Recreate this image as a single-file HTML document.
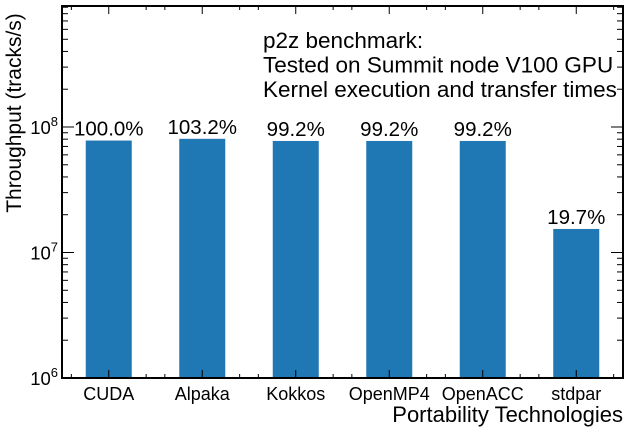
<!DOCTYPE html>
<html><head><meta charset="utf-8"><style>
body{margin:0;background:#fff}
svg{display:block;font-family:"Liberation Sans",Arial,sans-serif}
</style></head><body>
<svg id="c" width="632" height="432" viewBox="0 0 632 432" xmlns="http://www.w3.org/2000/svg"></svg>
<script>
const categories=["CUDA","Alpaka","Kokkos","OpenMP4","OpenACC","stdpar"];
const throughputs=[7.8e7,8.05e7,7.74e7,7.74e7,7.74e7,1.54e7];
const percentLabels=["100.0%","103.2%","99.2%","99.2%","99.2%","19.7%"];
const yDecades=[6,7,8];
const L=62,R=623,T=6,B=378,yMin=6,yMax=8+(B-T)/125.5-2;
const NS="http://www.w3.org/2000/svg";
const svg=document.getElementById('c');
function y(v){return B-(Math.log10(v)-yMin)/(yMax-yMin)*(B-T);}
const bw=(R-L)/categories.length;
function xc(i){return L+bw*(i+0.5);}
function el(t,a,p){const e=document.createElementNS(NS,t);for(const k in a)e.setAttribute(k,a[k]);(p||svg).appendChild(e);return e;}
categories.forEach((c,i)=>{
  const b=el('rect',{x:xc(i)-23,y:y(throughputs[i]),width:46,height:B-y(throughputs[i]),fill:'#1f77b4'});
  
  
  const t=el('text',{x:xc(i),y:y(throughputs[i])-5,'text-anchor':'middle','font-size':20.5,fill:'#000'});
  t.textContent=percentLabels[i];
  
  
  const l=el('text',{x:xc(i),y:B+22,'text-anchor':'middle','font-size':18,fill:'#000'});
  l.textContent=c;
  
  
  [[0,8],[-0.4,4],[0.4,4]].forEach(([o,len])=>{
    const xx=xc(i)+o*bw;
    el('line',{x1:xx,x2:xx,y1:B,y2:B-len,stroke:'#000','stroke-width':1});
    el('line',{x1:xx,x2:xx,y1:T,y2:T+len,stroke:'#000','stroke-width':1});
  });
});
for(let d=yMin;d<9;d++){
  for(let m=1;m<10;m++){
    const v=m*Math.pow(10,d);const yy=y(v);
    if(yy<T-0.5||yy>B+0.5)continue;
    const len=m===1?12:6;
    el('line',{x1:L,x2:L+len,y1:yy,y2:yy,stroke:'#000','stroke-width':1});
    el('line',{x1:R,x2:R-len,y1:yy,y2:yy,stroke:'#000','stroke-width':1});
  }
}
yDecades.forEach(d=>{
  const yy=y(Math.pow(10,d));
  const t=el('text',{x:L-4,y:yy+7,'text-anchor':'end','font-size':18.5,fill:'#000'});
  t.innerHTML='10<tspan dy="-8" font-size="13">'+d+'</tspan>';
  
  
});
const fr=el('rect',{x:L,y:T,width:R-L,height:B-T,fill:'none',stroke:'#000','stroke-width':2});


const yt=el('text',{x:0,y:0,transform:'translate(21,113) rotate(-90)','text-anchor':'middle','font-size':21,fill:'#000'});
yt.textContent='Throughput (tracks/s)';


const xt=el('text',{x:R,y:422,'text-anchor':'end','font-size':22,fill:'#000'});
xt.textContent='Portability Technologies';


["p2z benchmark:","Tested on Summit node V100 GPU","Kernel execution and transfer times"].forEach((s,i)=>{
  const t=el('text',{x:263,y:48+i*24.5,'font-size':22.5,fill:'#000'});
  t.textContent=s;
  
  
});
</script>
</body></html>
